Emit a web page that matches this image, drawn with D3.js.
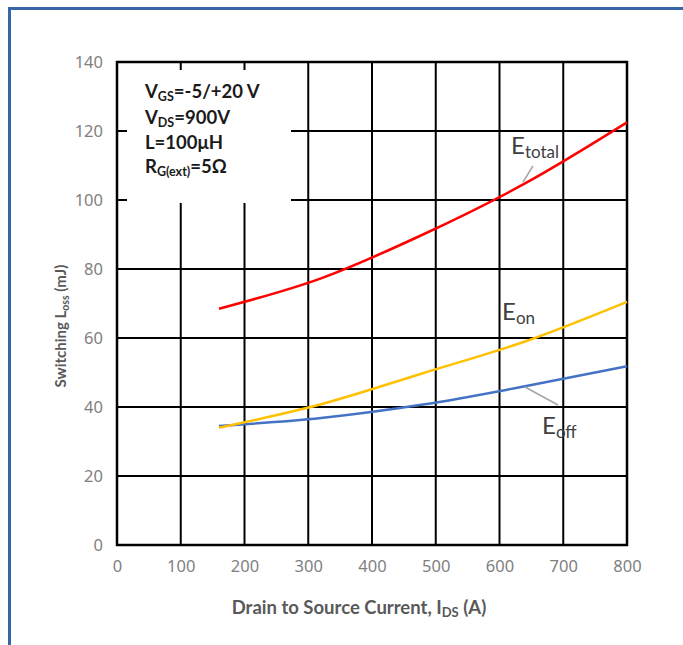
<!DOCTYPE html>
<html>
<head>
<meta charset="utf-8">
<script src="https://cdn.jsdelivr.net/npm/d3@7"></script>
<style>
  html, body { margin: 0; padding: 0; background: #fff; }
  svg { display: block; }
</style>
</head>
<body>
<svg id="chart" width="683" height="645"></svg>
<script>
// Drain current (A) at which the switching energies were measured
const currents = [160, 320, 480, 640, 800];
// Switching energies (mJ)
const eTotal = [68.5, 77.3, 90.0, 104.8, 122.5];
const eOn    = [34.0, 40.8, 49.8, 59.0, 70.5];
const eOff   = [34.5, 36.8, 40.7, 46.0, 51.8];
// Axis ticks
const xTicks = [0, 100, 200, 300, 400, 500, 600, 700, 800];
const yTicks = [0, 20, 40, 60, 80, 100, 120, 140];
// Test conditions
const conditions = [
  { main: "V", sub: "GS", rest: "=-5/+20 V" },
  { main: "V", sub: "DS", rest: "=900V" },
  { main: "L=100μH", sub: "", rest: "" },
  { main: "R", sub: "G(ext)", rest: "=5Ω" }
];

const svg = d3.select("#chart");
const W = 683, H = 645;

// outer frame
svg.append("rect").attr("x", 0).attr("y", 0).attr("width", W).attr("height", H).attr("fill", "#fff");
svg.append("path")
  .attr("d", `M9.5,${H} V8.5 H${W}`)
  .attr("fill", "none").attr("stroke", "#3566a5").attr("stroke-width", 3);

const pL = 117, pR = 627, pT = 62, pB = 545;
const x = d3.scaleLinear().domain([0, 800]).range([pL, pR]);
const y = d3.scaleLinear().domain([0, 140]).range([pB, pT]);

// grid
const grid = svg.append("g");
grid.selectAll("line.v").data(xTicks.slice(1, -1)).join("line")
  .attr("x1", d => x(d)).attr("x2", d => x(d))
  .attr("y1", pT).attr("y2", pB)
  .attr("stroke", "#000").attr("stroke-width", 2);
grid.selectAll("line.h").data(yTicks.slice(1, -1)).join("line")
  .attr("x1", pL).attr("x2", pR)
  .attr("y1", d => y(d)).attr("y2", d => y(d))
  .attr("stroke", "#000").attr("stroke-width", 2);

// white box holding the test conditions
svg.append("rect").attr("x", 127).attr("y", 70).attr("width", 164).attr("height", 133).attr("fill", "#fff");

// plot border
svg.append("rect").attr("x", pL).attr("y", pT).attr("width", pR - pL).attr("height", pB - pT)
  .attr("fill", "none").attr("stroke", "#000").attr("stroke-width", 2.5);

// tick labels
const tickFont = "'Noto Sans', 'DejaVu Sans', sans-serif";
const xAxis = d3.axisBottom(x).tickValues(xTicks).tickSize(0).tickPadding(15);
const gx = svg.append("g").attr("transform", `translate(0,${pB})`).call(xAxis);
gx.select(".domain").remove();
gx.selectAll("text").attr("fill", "#7f7f7f").style("font-family", tickFont).style("font-size", "16.5px");

const yAxis = d3.axisLeft(y).tickValues(yTicks).tickSize(0).tickPadding(14);
const gy = svg.append("g").attr("transform", `translate(${pL},0)`).call(yAxis);
gy.select(".domain").remove();
gy.selectAll("text").attr("fill", "#7f7f7f").style("font-family", tickFont).style("font-size", "16.5px");

// series lines
const line = (vals) => d3.line()
  .x((d, i) => x(currents[i]))
  .y(d => y(d))
  .curve(d3.curveMonotoneX)(vals);

svg.append("path").attr("d", line(eOff)).attr("fill", "none").attr("stroke", "#4472c4").attr("stroke-width", 2.5);
svg.append("path").attr("d", line(eOn)).attr("fill", "none").attr("stroke", "#ffc000").attr("stroke-width", 2.5);
svg.append("path").attr("d", line(eTotal)).attr("fill", "none").attr("stroke", "#ff0000").attr("stroke-width", 2.5);

// series labels with leader lines
const labFont = "Lato, 'Open Sans', sans-serif";
function seriesLabel(xp, yp, sub) {
  const t = svg.append("text").attr("x", xp).attr("y", yp)
    .attr("fill", "#404040").style("font-family", labFont);
  t.append("tspan").text("E").style("font-size", "24px");
  t.append("tspan").text(sub).attr("dy", 4).style("font-size", "17px");
}
seriesLabel(511, 154, "total");
seriesLabel(502, 320, "on");
seriesLabel(542, 434, "off");

svg.append("line").attr("x1", 533).attr("y1", 166).attr("x2", 523).attr("y2", 182)
  .attr("stroke", "#a6a6a6").attr("stroke-width", 1.5);
svg.append("line").attr("x1", 525).attr("y1", 387).attr("x2", 558).attr("y2", 405)
  .attr("stroke", "#a6a6a6").attr("stroke-width", 1.5);

// test-condition text
const condFont = "Lato, 'Open Sans', sans-serif";
const condY = [98, 124, 149, 173];
conditions.forEach((c, i) => {
  const t = svg.append("text").attr("x", 145).attr("y", condY[i])
    .attr("fill", "#1a1a1a").style("font-family", condFont)
    .style("font-weight", "bold").style("font-size", "18.5px");
  t.append("tspan").text(c.main);
  if (c.sub) t.append("tspan").text(c.sub).attr("dy", 3).style("font-size", "12.5px");
  if (c.rest) t.append("tspan").text(c.rest).attr("dy", c.sub ? -3 : 0);
});

// axis titles
const titleFont = "Lato, 'Open Sans', sans-serif";
const xt = svg.append("text").attr("x", 359).attr("y", 614).attr("text-anchor", "middle")
  .attr("fill", "#595959").style("font-family", titleFont).style("font-weight", "bold").style("font-size", "18.5px");
xt.append("tspan").text("Drain to Source Current, I");
xt.append("tspan").text("DS").attr("dy", 3).style("font-size", "13px");
xt.append("tspan").text(" (A)").attr("dy", -3);

const yt = svg.append("text").attr("transform", "translate(66,326) rotate(-90)").attr("text-anchor", "middle")
  .attr("fill", "#595959").style("font-family", titleFont).style("font-weight", "bold").style("font-size", "15px");
yt.append("tspan").text("Switching L");
yt.append("tspan").text("oss").attr("dy", 3).style("font-size", "10.5px");
yt.append("tspan").text(" (mJ)").attr("dy", -3);
</script>
</body>
</html>
